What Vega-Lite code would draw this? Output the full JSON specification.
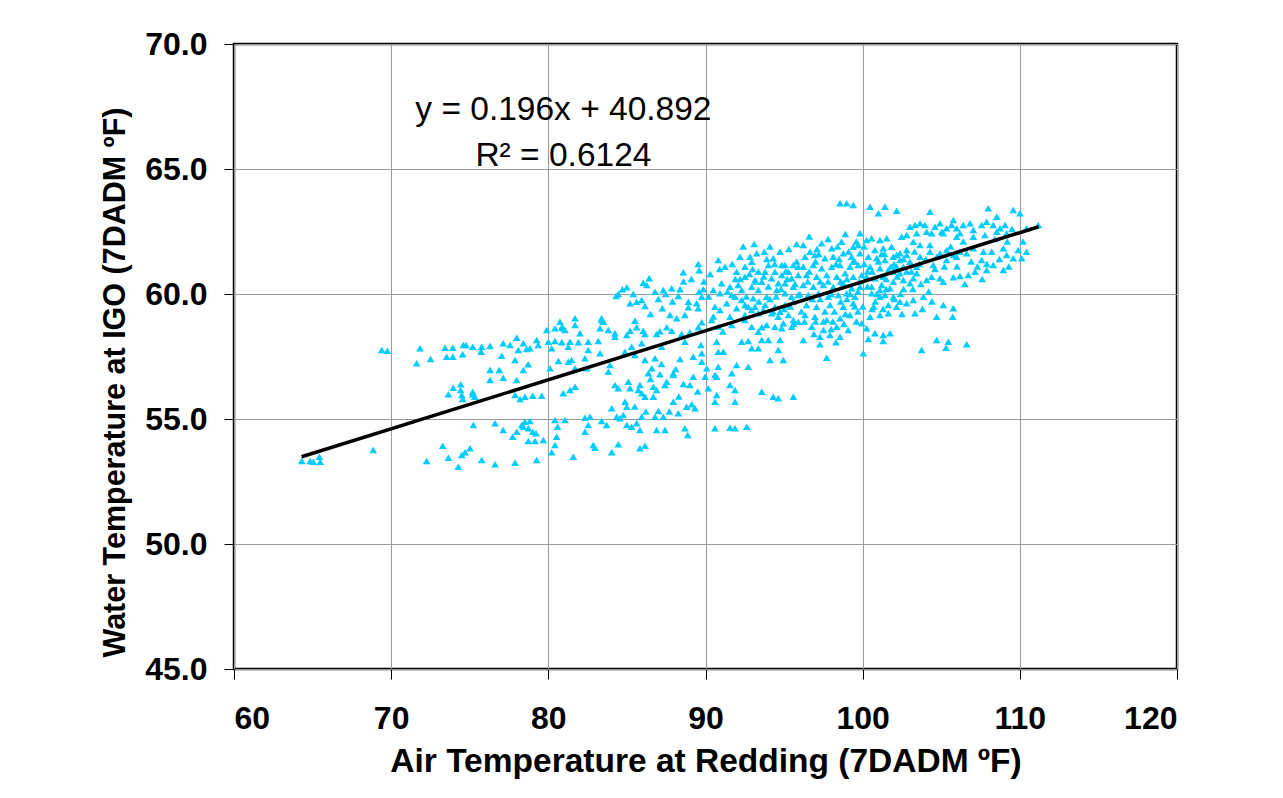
{
  "$schema": "https://vega.github.io/schema/vega-lite/v6.json",
  "autosize": "none",
  "width": 943,
  "height": 625,
  "padding": {"left": 234, "top": 44, "right": 106, "bottom": 129},
  "background": "white",
  "config": {
    "view": {"stroke": "black", "strokeWidth": 2.5},
    "font": "Liberation Sans",
    "axis": {
      "domain": false,
      "grid": true,
      "gridColor": "#9a9a9a",
      "gridWidth": 1,
      "tickColor": "#000000",
      "tickSize": 10,
      "tickWidth": 1,
      "labelFont": "Liberation Sans",
      "labelFontWeight": "bold",
      "labelFontSize": 32,
      "labelColor": "#000000",
      "titleFont": "Liberation Sans",
      "titleFontWeight": "bold",
      "titleColor": "#000000"
    }
  },
  "datasets": {
    "points": [
      {"air":64.31,"water":53.32},{"air":64.84,"water":53.32},{"air":65.05,"water":53.29},{"air":65.43,"water":53.49},{"air":65.48,"water":53.29},
      {"air":68.86,"water":53.76},{"air":69.40,"water":57.76},{"air":69.76,"water":57.73},
      {"air":71.83,"water":57.83},{"air":71.62,"water":57.23},{"air":72.51,"water":57.40},
      {"air":73.43,"water":57.85},{"air":73.92,"water":57.85},{"air":73.53,"water":57.49},{"air":73.92,"water":57.49},
      {"air":74.59,"water":57.96},{"air":74.76,"water":57.96},{"air":75.19,"water":57.89},{"air":75.76,"water":57.89},{"air":75.72,"water":57.69},{"air":76.29,"water":57.92},{"air":74.55,"water":57.59},
      {"air":77.13,"water":58.03},{"air":77.56,"water":57.96},{"air":77.99,"water":58.25},{"air":78.41,"water":58.03},{"air":78.83,"water":57.83},{"air":79.26,"water":58.16},{"air":79.36,"water":57.96},{"air":78.09,"water":57.76},{"air":78.62,"water":57.80},
      {"air":77.03,"water":57.53},{"air":77.88,"water":57.36},{"air":78.41,"water":56.96},{"air":78.72,"water":57.19},
      {"air":76.29,"water":56.96},{"air":76.88,"water":56.96},{"air":76.29,"water":56.56},{"air":77.13,"water":56.65},{"air":77.99,"water":56.56},
      {"air":73.64,"water":55.99},{"air":73.95,"water":56.25},{"air":74.42,"water":56.39},{"air":74.42,"water":56.16},{"air":74.49,"water":55.96},{"air":74.55,"water":55.80},{"air":75.19,"water":55.99},{"air":75.33,"water":55.89},{"air":75.19,"water":56.09},
      {"air":77.88,"water":55.96},{"air":78.20,"water":55.80},{"air":78.51,"water":55.89},{"air":79.01,"water":55.93},{"air":79.58,"water":55.93},
      {"air":75.23,"water":54.76},{"air":76.61,"water":54.83},{"air":77.13,"water":54.56},{"air":77.73,"water":54.29},{"air":78.31,"water":54.76},{"air":78.51,"water":54.89},{"air":78.83,"water":54.92},{"air":78.73,"water":54.63},{"air":79.01,"water":54.49},{"air":79.22,"water":54.43},{"air":78.73,"water":54.12},{"air":79.15,"water":54.12},{"air":79.68,"water":54.16},{"air":77.99,"water":54.49},{"air":78.41,"water":54.69},
      {"air":73.28,"water":53.93},{"air":73.64,"water":53.45},{"air":74.49,"water":53.56},{"air":74.70,"water":53.67},{"air":75.02,"water":53.83},{"air":72.26,"water":53.32},{"air":74.27,"water":53.09},{"air":75.76,"water":53.36},{"air":76.61,"water":53.19},{"air":77.88,"water":53.25},{"air":79.26,"water":53.36},
      {"air":89.54,"water":61.20},{"air":89.60,"water":60.95},{"air":88.59,"water":60.87},{"air":86.42,"water":60.63},{"air":86.04,"water":60.45},{"air":86.26,"water":60.36},
      {"air":84.99,"water":60.27},{"air":84.71,"water":60.19},{"air":84.45,"water":60.00},{"air":84.31,"water":59.92},
      {"air":85.41,"water":60.00},{"air":85.20,"water":59.63},{"air":85.62,"water":59.69},{"air":85.94,"water":59.76},{"air":86.15,"water":59.52},
      {"air":86.79,"water":60.09},{"air":87.32,"water":60.16},{"air":87.47,"water":60.00},{"air":87.85,"water":60.23},{"air":88.38,"water":60.19},{"air":88.27,"water":59.92},
      {"air":88.91,"water":59.69},{"air":89.44,"water":59.63},{"air":89.59,"water":60.09},{"air":89.86,"water":60.19},{"air":89.76,"water":59.89},
      {"air":87.25,"water":59.43},{"air":87.74,"water":59.16},{"air":88.17,"water":59.03},{"air":88.69,"water":59.16},{"air":88.91,"water":59.47},{"air":89.54,"water":59.43},
      {"air":85.51,"water":58.93},{"air":85.62,"water":58.67},{"air":85.20,"water":58.53},{"air":86.04,"water":58.53},{"air":86.15,"water":58.40},{"air":86.89,"water":58.40},{"air":87.10,"water":58.51},{"air":87.85,"water":58.53},{"air":87.53,"water":58.67},{"air":88.48,"water":58.40},{"air":89.01,"water":58.47},{"air":89.54,"water":58.67},{"air":89.76,"water":58.87},
      {"air":84.24,"water":58.43},{"air":83.82,"water":58.56},{"air":83.50,"water":58.89},{"air":83.39,"water":59.03},{"air":83.29,"water":58.63},
      {"air":81.70,"water":59.03},{"air":81.70,"water":58.76},{"air":82.01,"water":58.43},{"air":80.74,"water":58.89},{"air":80.85,"water":58.67},{"air":80.42,"water":58.63},{"air":81.06,"water":58.56},{"air":79.90,"water":58.56},{"air":80.95,"water":58.63},{"air":83.39,"water":58.96},
      {"air":90.39,"water":58.96},{"air":90.81,"water":58.69},{"air":91.67,"water":58.76},{"air":92.51,"water":58.96},{"air":92.94,"water":58.69},{"air":93.58,"water":58.67},{"air":93.89,"water":58.76},{"air":94.42,"water":58.69},{"air":94.85,"water":58.63},{"air":95.48,"water":58.69},{"air":95.59,"water":58.96},{"air":95.90,"water":58.89},{"air":95.27,"water":59.16},{"air":94.63,"water":59.09},{"air":94.74,"water":59.29},{"air":94.21,"water":59.23},{"air":93.36,"water":59.23},{"air":93.68,"water":59.36},{"air":92.51,"water":59.16},{"air":93.15,"water":59.49},{"air":93.79,"water":59.56},{"air":94.42,"water":59.49},{"air":95.06,"water":59.56},{"air":95.59,"water":59.69},{"air":95.90,"water":59.96},
      {"air":90.81,"water":61.36},{"air":91.24,"water":61.09},{"air":92.19,"water":61.49},{"air":91.98,"water":60.89},{"air":92.51,"water":60.69},{"air":92.83,"water":61.49},{"air":92.94,"water":61.29},{"air":93.26,"water":61.63},{"air":93.74,"water":61.69},{"air":94.00,"water":61.16},{"air":94.31,"water":61.43},{"air":94.74,"water":61.69},{"air":94.85,"water":61.16},{"air":95.06,"water":61.16},{"air":95.59,"water":61.16},{"air":95.90,"water":61.09},{"air":93.36,"water":60.89},{"air":93.79,"water":60.89},{"air":94.42,"water":60.89},{"air":94.85,"water":60.76},{"air":95.27,"water":60.89},{"air":95.48,"water":60.63},{"air":92.51,"water":61.09},{"air":93.15,"water":60.56},{"air":93.58,"water":60.49},{"air":94.21,"water":60.63},{"air":95.90,"water":60.76},
      {"air":91.02,"water":60.43},{"air":91.56,"water":60.29},{"air":92.09,"water":60.36},{"air":90.50,"water":60.16},{"air":90.92,"water":60.03},{"air":91.67,"water":59.96},{"air":92.30,"water":60.16},{"air":92.94,"water":60.29},{"air":93.36,"water":60.16},{"air":94.63,"water":60.43},{"air":95.06,"water":60.43},{"air":95.59,"water":60.29},
      {"air":90.60,"water":59.49},{"air":90.92,"water":59.36},{"air":91.56,"water":59.09},{"air":91.98,"water":59.43},{"air":92.51,"water":59.56},{"air":93.04,"water":59.83},{"air":93.89,"water":59.89},{"air":94.53,"water":60.16},{"air":95.06,"water":60.03},{"air":95.48,"water":59.89},{"air":94.95,"water":58.83},{"air":93.36,"water":58.49},
      {"air":91.35,"water":59.63},{"air":91.88,"water":59.89},{"air":92.30,"water":59.76},{"air":92.72,"water":59.49},{"air":92.94,"water":59.36},
      {"air":80.00,"water":58.09},{"air":80.42,"water":58.12},{"air":80.85,"water":58.07},{"air":81.38,"water":58.09},{"air":81.91,"water":58.07},{"air":82.54,"water":58.09},{"air":83.18,"water":58.12},{"air":84.24,"water":58.29},{"air":84.99,"water":58.36},
      {"air":80.21,"water":57.83},{"air":81.27,"water":57.89},{"air":82.54,"water":57.76},{"air":83.29,"water":57.63},{"air":82.33,"water":57.43},{"air":81.27,"water":57.29},{"air":80.64,"water":57.32},{"air":80.11,"water":57.03},{"air":81.70,"water":57.03},{"air":82.44,"water":57.03},{"air":83.92,"water":57.16},{"air":83.82,"water":56.89},{"air":81.48,"water":57.36},
      {"air":84.88,"water":57.69},{"air":85.30,"water":57.89},{"air":85.51,"water":57.56},{"air":86.15,"water":57.36},{"air":85.94,"water":58.03},{"air":86.79,"water":57.43},{"air":87.21,"water":57.89},{"air":86.36,"water":56.83},{"air":86.58,"water":57.03},{"air":87.10,"water":56.79},{"air":87.95,"water":56.83},{"air":88.38,"water":57.40},{"air":88.69,"water":58.09},{"air":89.22,"water":57.49},{"air":89.71,"water":57.96},{"air":89.76,"water":57.63},{"air":89.76,"water":57.29},{"air":90.08,"water":57.03},{"air":89.97,"water":56.69},
      {"air":90.71,"water":58.09},{"air":90.81,"water":57.69},{"air":91.13,"water":57.69},{"air":90.81,"water":57.09},{"air":90.60,"water":56.76},{"air":91.98,"water":57.16},{"air":91.67,"water":56.83},{"air":92.30,"water":58.09},{"air":92.72,"water":58.12},{"air":92.94,"water":57.83},{"air":93.36,"water":57.83},{"air":93.58,"water":58.16},{"air":94.00,"water":58.16},{"air":94.63,"water":57.76},{"air":94.74,"water":58.16},{"air":94.10,"water":57.36},{"air":94.95,"water":57.36},{"air":92.72,"water":57.09},
      {"air":80.95,"water":56.03},{"air":81.38,"water":56.16},{"air":81.70,"water":56.29},
      {"air":84.24,"water":56.36},{"air":84.45,"water":56.23},{"air":85.09,"water":56.49},{"air":85.20,"water":56.23},{"air":85.83,"water":56.36},{"air":85.72,"water":56.16},{"air":85.94,"water":56.03},{"air":86.15,"water":55.89},{"air":86.68,"water":56.29},{"air":86.68,"water":55.89},{"air":86.89,"water":56.16},{"air":87.53,"water":56.49},{"air":87.42,"water":56.36},{"air":87.95,"water":56.76},{"air":87.95,"water":55.69},{"air":88.27,"water":55.23},{"air":88.80,"water":55.49},{"air":89.12,"water":55.59},{"air":89.33,"water":55.43},{"air":89.01,"water":56.36},{"air":89.22,"water":56.69},{"air":90.18,"water":56.23},{"air":90.60,"water":55.69},{"air":90.71,"water":55.96},{"air":90.71,"water":56.69},{"air":91.56,"water":56.36},{"air":91.88,"water":56.16},{"air":91.88,"water":55.69},{"air":93.58,"water":56.09},{"air":94.31,"water":55.89},{"air":94.63,"water":55.83},{"air":95.59,"water":55.89},
      {"air":84.03,"water":55.43},{"air":84.88,"water":55.69},{"air":84.99,"water":55.49},{"air":84.77,"water":55.16},{"air":84.56,"water":55.03},{"air":84.35,"water":55.09},{"air":84.99,"water":54.76},{"air":85.30,"water":54.69},{"air":85.62,"water":54.83},{"air":85.94,"water":55.09},{"air":85.83,"water":54.56},{"air":86.79,"water":55.09},{"air":87.00,"water":55.32},{"air":87.32,"water":55.09},{"air":86.89,"water":54.56},{"air":87.42,"water":54.56},{"air":88.69,"water":54.63},{"air":88.87,"water":54.36},
      {"air":82.65,"water":55.09},{"air":82.33,"water":55.05},{"air":82.54,"water":54.76},{"air":83.39,"water":54.92},{"air":83.71,"water":54.76},{"air":82.33,"water":54.49},{"air":80.42,"water":54.96},{"air":81.06,"water":54.96},{"air":80.59,"water":54.69},{"air":80.53,"water":54.29},{"air":80.42,"water":53.96},{"air":80.21,"water":53.67},{"air":81.59,"water":53.49},{"air":82.86,"water":53.96},{"air":82.97,"water":53.85},{"air":84.45,"water":53.99},{"air":84.03,"water":53.67},{"air":85.83,"water":53.83},{"air":86.15,"water":53.93},
      {"air":90.60,"water":54.63},{"air":91.56,"water":54.65},{"air":91.88,"water":54.63},{"air":92.62,"water":54.69},
      {"air":96.22,"water":58.16},{"air":97.28,"water":57.99},{"air":97.71,"water":57.45},{"air":98.30,"water":58.07},{"air":100.04,"water":57.63},{"air":100.36,"water":58.20},{"air":101.31,"water":58.12},{"air":103.75,"water":57.76},{"air":104.71,"water":58.16},{"air":105.45,"water":58.09},{"air":105.30,"water":57.85},{"air":106.62,"water":57.99},
      {"air":98.56,"water":63.63},{"air":98.98,"water":63.63},{"air":99.40,"water":63.56},{"air":100.47,"water":63.49},{"air":101.00,"water":63.23},{"air":101.42,"water":63.49},{"air":102.16,"water":63.33},{"air":104.28,"water":63.29},{"air":107.99,"water":63.43},{"air":109.58,"water":63.36},{"air":110.01,"water":63.23},{"air":111.17,"water":62.76},
      {"air":103.01,"water":62.69},{"air":103.33,"water":62.76},{"air":103.65,"water":62.83},{"air":103.96,"water":62.76},{"air":104.07,"water":62.49},{"air":104.60,"water":62.69},{"air":104.92,"water":62.83},{"air":105.03,"water":62.49},{"air":105.34,"water":62.63},{"air":105.66,"water":62.76},{"air":105.98,"water":62.63},{"air":106.40,"water":62.76},{"air":106.83,"water":62.83},{"air":107.04,"water":62.56},{"air":107.57,"water":62.76},{"air":107.89,"water":62.89},{"air":108.31,"water":62.76},{"air":108.53,"water":63.09},{"air":108.74,"water":62.63},{"air":109.06,"water":62.76},{"air":109.16,"water":62.43},{"air":105.98,"water":62.29},{"air":105.77,"water":62.96},{"air":107.04,"water":62.29},{"air":107.78,"water":62.36},{"air":108.53,"water":62.49},{"air":110.43,"water":62.63},{"air":102.48,"water":62.29},{"air":102.80,"water":62.36},{"air":103.44,"water":62.43},{"air":104.39,"water":62.43},{"air":105.13,"water":62.43},{"air":106.19,"water":62.43},
      {"air":103.22,"water":62.09},{"air":103.65,"water":61.96},{"air":104.28,"water":61.69},{"air":104.92,"water":61.63},{"air":105.34,"water":61.76},{"air":105.77,"water":61.56},{"air":106.19,"water":61.69},{"air":106.62,"water":61.63},{"air":107.04,"water":61.83},{"air":107.68,"water":61.69},{"air":108.21,"water":61.69},{"air":108.95,"water":61.83},{"air":109.16,"water":61.56},{"air":109.90,"water":61.76},{"air":110.43,"water":61.69},{"air":109.58,"water":61.43},{"air":110.12,"water":61.43},{"air":107.57,"water":61.36},{"air":104.28,"water":61.96},{"air":104.71,"water":61.49},{"air":103.65,"water":61.49},{"air":102.80,"water":61.56},{"air":102.37,"water":61.63},{"air":103.44,"water":61.09},{"air":104.49,"water":61.16},{"air":105.34,"water":61.36},{"air":105.98,"water":61.49},
      {"air":104.07,"water":60.56},{"air":104.92,"water":60.63},{"air":105.77,"water":60.67},{"air":106.19,"water":60.72},{"air":106.72,"water":60.76},{"air":107.15,"water":60.89},{"air":107.89,"water":60.96},{"air":108.95,"water":60.96},{"air":108.31,"water":61.16},{"air":105.13,"water":60.49},{"air":104.39,"water":60.69},{"air":103.22,"water":60.63},{"air":102.59,"water":60.56},{"air":101.95,"water":60.49},{"air":102.37,"water":60.83},{"air":103.44,"water":60.83},{"air":103.01,"water":60.43},
      {"air":100.57,"water":60.03},{"air":101.10,"water":60.16},{"air":101.42,"water":59.96},{"air":101.95,"water":59.89},{"air":102.37,"water":59.69},{"air":102.80,"water":59.63},{"air":103.22,"water":59.76},{"air":103.33,"water":59.23},{"air":103.86,"water":59.89},{"air":105.13,"water":59.56},{"air":105.77,"water":59.43},{"air":104.71,"water":59.09},{"air":105.73,"water":59.09},{"air":101.63,"water":59.56},{"air":102.16,"water":59.49},{"air":101.63,"water":59.23},{"air":100.47,"water":59.09},{"air":101.10,"water":59.16},{"air":100.25,"water":58.63},{"air":100.78,"water":58.43},{"air":101.31,"water":58.36},{"air":101.74,"water":58.43},{"air":99.94,"water":58.83},
      {"air":100.25,"water":62.16},{"air":100.57,"water":62.23},{"air":101.10,"water":62.16},{"air":101.53,"water":62.23},{"air":100.78,"water":61.76},{"air":101.31,"water":61.83},{"air":101.84,"water":61.89},{"air":102.80,"water":61.76},{"air":100.36,"water":61.49},{"air":100.89,"water":61.43},{"air":101.42,"water":61.36},{"air":101.95,"water":61.49},{"air":102.37,"water":61.36},{"air":103.01,"water":61.29},{"air":100.47,"water":61.09},{"air":101.10,"water":61.03},{"air":101.63,"water":60.96},{"air":102.16,"water":61.09},{"air":102.59,"water":61.09},{"air":100.25,"water":60.69},{"air":100.78,"water":60.63},{"air":101.31,"water":60.69},{"air":100.57,"water":60.29},{"air":101.21,"water":60.36},{"air":101.74,"water":60.23},{"air":101.10,"water":59.89},{"air":102.16,"water":61.56},{"air":101.95,"water":60.89},
      {"air":96.22,"water":61.96},{"air":96.65,"water":61.69},{"air":97.39,"water":62.03},{"air":98.03,"water":61.83},{"air":98.66,"water":62.09},{"air":99.40,"water":61.89},{"air":99.72,"water":61.96},{"air":96.33,"water":61.49},{"air":96.96,"water":61.56},{"air":97.60,"water":61.43},{"air":98.13,"water":61.49},{"air":98.77,"water":61.63},{"air":99.30,"water":61.49},{"air":99.83,"water":61.63},{"air":96.22,"water":61.09},{"air":96.86,"water":61.16},{"air":97.39,"water":61.03},{"air":98.03,"water":61.09},{"air":98.56,"water":61.16},{"air":99.19,"water":61.09},{"air":99.72,"water":61.16},{"air":96.43,"water":60.76},{"air":97.07,"water":60.69},{"air":97.71,"water":60.76},{"air":98.35,"water":60.69},{"air":98.88,"water":60.83},{"air":99.40,"water":60.69},{"air":99.94,"water":60.76},{"air":96.22,"water":60.36},{"air":96.86,"water":60.29},{"air":97.50,"water":60.36},{"air":98.13,"water":60.29},{"air":98.77,"water":60.43},{"air":99.30,"water":60.23},{"air":99.83,"water":60.29},{"air":96.54,"water":59.96},{"air":97.18,"water":60.03},{"air":97.81,"water":59.89},{"air":98.45,"water":59.96},{"air":98.98,"water":60.03},{"air":99.51,"water":59.89},{"air":96.43,"water":59.56},{"air":97.07,"water":59.49},{"air":97.92,"water":59.56},{"air":98.77,"water":59.49},{"air":99.40,"water":59.63},{"air":96.33,"water":59.16},{"air":96.96,"water":59.09},{"air":97.71,"water":58.96},{"air":98.56,"water":59.03},{"air":99.19,"water":59.16},{"air":96.76,"water":58.69},{"air":97.50,"water":58.56},{"air":98.35,"water":58.69},{"air":99.08,"water":58.56},{"air":97.92,"water":58.36},{"air":98.56,"water":58.29},{"air":97.28,"water":58.29},{"air":99.83,"water":62.43},
      {"air":94.00,"water":60.30},{"air":94.50,"water":59.90},{"air":95.20,"water":60.60},{"air":95.80,"water":61.30},{"air":96.00,"water":60.00},{"air":96.50,"water":60.50},{"air":97.00,"water":61.30},{"air":97.30,"water":59.80},{"air":97.80,"water":60.50},{"air":98.30,"water":61.20},{"air":98.60,"water":59.70},{"air":99.00,"water":60.60},{"air":99.50,"water":61.30},{"air":99.70,"water":60.10},{"air":100.00,"water":59.50},{"air":100.30,"water":60.90},{"air":100.80,"water":59.70},{"air":101.20,"water":61.60},{"air":101.50,"water":60.60},{"air":102.00,"water":61.20},{"air":102.40,"water":60.00},{"air":102.80,"water":60.90},{"air":103.30,"water":61.70},{"air":93.20,"water":60.50},{"air":92.80,"water":60.80},{"air":93.90,"water":61.40},{"air":95.00,"water":59.40},{"air":96.10,"water":59.30},{"air":97.50,"water":58.90},{"air":98.90,"water":59.20},{"air":99.60,"water":58.90},{"air":100.60,"water":59.40},{"air":94.30,"water":59.30},{"air":95.60,"water":58.80},{"air":96.90,"water":58.40},{"air":98.00,"water":58.60},
      {"air":92.2,"water":60.6},{"air":92.6,"water":59.9},{"air":93.0,"water":61.0},{"air":93.4,"water":59.7},{"air":93.7,"water":60.7},{"air":94.1,"water":59.8},{"air":94.4,"water":61.2},{"air":94.8,"water":60.2},{"air":95.1,"water":60.9},{"air":95.4,"water":59.5},{"air":95.7,"water":60.4},{"air":92.4,"water":61.9},{"air":93.1,"water":62.0},{"air":94.1,"water":61.9},{"air":95.3,"water":61.8},{"air":95.8,"water":62.0},{"air":96.6,"water":62.3},{"air":97.8,"water":62.2},{"air":98.9,"water":62.4},{"air":97.1,"water":61.8},{"air":98.4,"water":61.9},{"air":99.1,"water":61.7},{"air":99.6,"water":62.1},
      {"air":96.6,"water":60.9},{"air":97.3,"water":60.5},{"air":98.0,"water":60.0},{"air":98.6,"water":60.5},{"air":99.2,"water":60.0},{"air":99.8,"water":60.5},{"air":96.8,"water":59.8},{"air":97.6,"water":59.3},{"air":98.2,"water":59.3},{"air":99.0,"water":59.8},{"air":99.7,"water":59.3},{"air":96.3,"water":58.9},{"air":97.0,"water":58.9},{"air":98.1,"water":58.9},{"air":98.8,"water":58.8},{"air":99.5,"water":59.5},{"air":97.2,"water":61.6},{"air":98.5,"water":61.4},{"air":99.4,"water":61.3},{"air":100.1,"water":61.9},
      {"air":100.1,"water":61.2},{"air":100.6,"water":60.9},{"air":101.0,"water":61.3},{"air":101.4,"water":61.6},{"air":101.8,"water":61.1},{"air":102.2,"water":60.7},{"air":102.6,"water":61.4},{"air":103.1,"water":60.9},{"air":103.6,"water":61.2},{"air":104.0,"water":61.4},{"air":100.3,"water":60.3},{"air":100.9,"water":60.0},{"air":101.5,"water":60.2},{"air":102.0,"water":59.8},{"air":102.6,"water":60.2},{"air":103.2,"water":60.2},{"air":103.7,"water":60.4},{"air":104.2,"water":60.1},{"air":100.7,"water":59.5},{"air":101.3,"water":59.4},{"air":102.5,"water":59.2},{"air":103.8,"water":59.4},{"air":104.4,"water":59.7},
      {"air":104.6,"water":61.0},{"air":105.2,"water":61.1},{"air":105.6,"water":61.9},{"air":106.0,"water":61.1},{"air":106.4,"water":62.1},{"air":106.9,"water":61.3},{"air":107.3,"water":61.1},{"air":107.9,"water":61.2},{"air":108.4,"water":62.2},{"air":108.7,"water":61.4},{"air":109.2,"water":62.1},{"air":109.5,"water":62.6},{"air":106.5,"water":60.4},{"air":107.6,"water":60.6},{"air":109.3,"water":61.1},{"air":110.2,"water":62.1},
      {"air":86.5,"water":59.2},{"air":87.0,"water":59.8},{"air":87.9,"water":59.7},{"air":88.6,"water":60.5},{"air":89.1,"water":60.6},{"air":89.9,"water":60.5},{"air":90.2,"water":59.9},{"air":90.5,"water":59.1},{"air":91.1,"water":58.5},{"air":91.4,"water":60.1},{"air":91.9,"water":60.6},{"air":90.3,"water":60.8},{"air":90.9,"water":61.0},{"air":91.7,"water":61.2},
      {"air":86.5,"water":56.6},{"air":87.2,"water":57.2},{"air":88.1,"water":57.0},{"air":88.6,"water":56.4},{"air":87.7,"water":55.3},{"air":88.3,"water":55.9},{"air":85.5,"water":55.5},{"air":86.2,"water":55.3},{"air":89.5,"water":56.1}
    ],
    "trend": [
      {"air": 64.3, "water": 53.49},
      {"air": 111.2, "water": 62.69}
    ],
    "notes": [
      {"air": 80.96, "water": 66.96, "label": "y = 0.196x + 40.892"},
      {"air": 80.96, "water": 65.12, "label": "R² = 0.6124"}
    ]
  },
  "layer": [
    {
      "data": {"name": "points"},
      "mark": {"type": "point", "shape": "triangle-up", "filled": true, "size": 60, "color": "#00CCFF", "opacity": 1},
      "encoding": {
        "x": {
          "field": "air", "type": "quantitative",
          "scale": {"domain": [60, 120], "nice": false, "zero": false},
          "axis": {
            "values": [60, 70, 80, 90, 100, 110, 120],
            "format": "d",
            "labelPadding": 24,
            "title": "Air Temperature at Redding (7DADM ºF)",
            "titleFontSize": 33.5,
            "titleBaseline": "alphabetic",
            "titleY": 102
          }
        },
        "y": {
          "field": "water", "type": "quantitative",
          "scale": {"domain": [45, 70], "nice": false, "zero": false},
          "axis": {
            "values": [45, 50, 55, 60, 65, 70],
            "format": ".1f",
            "labelPadding": 17,
            "title": "Water Temperature at IGO (7DADM ºF)",
            "titleFontSize": 30.5,
            "titleBaseline": "alphabetic",
            "titleAngle": -90,
            "titleX": -110,
            "titleY": 338
          }
        }
      }
    },
    {
      "data": {"name": "trend"},
      "mark": {"type": "line", "color": "#000000", "strokeWidth": 3.5},
      "encoding": {
        "x": {"field": "air", "type": "quantitative"},
        "y": {"field": "water", "type": "quantitative"}
      }
    },
    {
      "data": {"name": "notes"},
      "mark": {"type": "text", "font": "Liberation Sans", "fontSize": 33.5, "align": "center", "baseline": "alphabetic", "color": "#000000"},
      "encoding": {
        "x": {"field": "air", "type": "quantitative"},
        "y": {"field": "water", "type": "quantitative"},
        "text": {"field": "label"}
      }
    }
  ]
}
